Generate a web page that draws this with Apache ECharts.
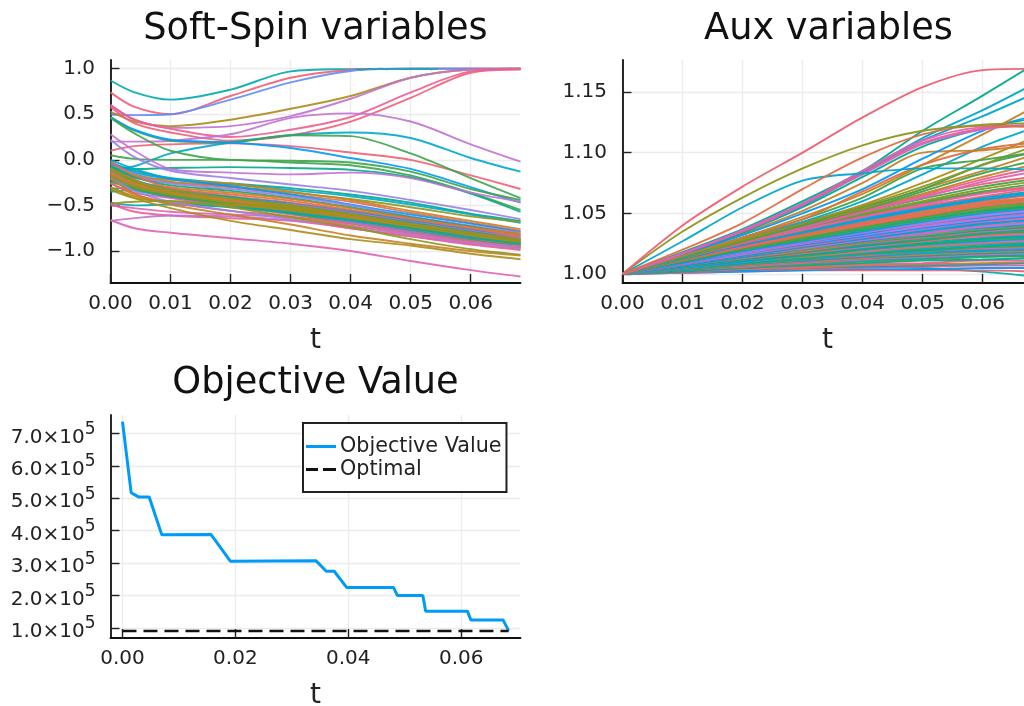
<!DOCTYPE html>
<html><head><meta charset="utf-8">
<style>html,body{margin:0;padding:0;background:#fff;overflow:hidden}#c{width:1024px;height:706px;filter:blur(0.5px)}</style>
<script src="https://cdn.jsdelivr.net/npm/echarts@6/dist/echarts.min.js"></script>
</head><body><div id="c"></div>
<script>
const palette = ['#009af9','#e26f46','#3da44d','#c271d2','#ac8d18','#00a9ad','#ed5e93','#c68225','#00a98d','#8e971d','#00a8cb','#9b7fe9','#618df6','#f05f73','#dd64b5','#6b9d1e'];

const titles = ['Soft-Spin variables','Aux variables','Objective Value'];
const spinXTicks = [0,0.01,0.02,0.03,0.04,0.05,0.06];
const spinYTicks = [-1,-0.5,0,0.5,1];
const auxYTicks = [1,1.05,1.1,1.15];
const objXTicks = [0,0.02,0.04,0.06];
const objYTicks = [100000,200000,300000,400000,500000,600000,700000];

const spinT = [0,0.004,0.01,0.02,0.03,0.04,0.05,0.06,0.0683];
const spinLines = [
 [0.87,0.74,0.66,0.77,0.97,0.995,1,1,1],
 [0.74,0.58,0.50,0.70,0.90,0.985,1,1,1],
 [0.50,0.49,0.50,0.66,0.85,0.975,1,1,1],
 [0.53,0.42,0.37,0.44,0.56,0.70,0.90,0.99,1],
 [0.60,0.44,0.35,0.37,0.48,0.67,0.90,0.99,1],
 [0.58,0.40,0.30,0.21,0.27,0.42,0.68,0.955,0.99],
 [0.60,0.44,0.34,0.25,0.33,0.47,0.74,0.97,0.995],
 [0.20,0.20,0.21,0.28,0.46,0.51,0.42,0.17,-0.02],
 [0.10,0.15,0.17,0.18,0.15,0.08,0.00,-0.17,-0.32],
 [-0.10,-0.07,0.07,0.19,0.27,0.30,0.24,0.02,-0.13],
 [0.47,0.32,0.21,0.19,0.27,0.26,0.07,-0.20,-0.42],
 [0.47,0.33,0.22,0.19,0.13,0.02,-0.10,-0.30,-0.47],
 [0.46,0.29,0.10,-0.00,-0.01,-0.03,-0.13,-0.32,-0.44],
 [0.05,0.01,0.00,-0.00,-0.03,-0.06,-0.17,-0.36,-0.55],
 [-0.05,-0.10,-0.09,-0.08,-0.09,-0.11,-0.19,-0.37,-0.57],
 [0.28,0.10,-0.10,-0.14,-0.16,-0.14,-0.20,-0.36,-0.46],
 [0.22,0.03,-0.12,-0.20,-0.27,-0.34,-0.44,-0.55,-0.65],
 [-0.03,-0.12,-0.20,-0.26,-0.31,-0.38,-0.47,-0.59,-0.67],
 [0.00,-0.10,-0.21,-0.27,-0.33,-0.40,-0.49,-0.60,-0.69],
 [-0.08,-0.16,-0.24,-0.29,-0.36,-0.43,-0.52,-0.62,-0.68],
 [-0.10,-0.18,-0.22,-0.26,-0.35,-0.44,-0.56,-0.67,-0.76],
 [-0.12,-0.20,-0.25,-0.30,-0.38,-0.46,-0.58,-0.69,-0.78],
 [-0.02,-0.14,-0.21,-0.29,-0.38,-0.49,-0.60,-0.70,-0.79],
 [-0.05,-0.17,-0.26,-0.32,-0.40,-0.50,-0.62,-0.72,-0.80],
 [-0.06,-0.19,-0.28,-0.34,-0.42,-0.52,-0.63,-0.73,-0.82],
 [-0.14,-0.24,-0.30,-0.36,-0.43,-0.53,-0.64,-0.74,-0.81],
 [-0.02,-0.17,-0.31,-0.38,-0.45,-0.55,-0.65,-0.75,-0.84],
 [-0.16,-0.25,-0.32,-0.40,-0.47,-0.56,-0.66,-0.76,-0.83],
 [-0.10,-0.22,-0.33,-0.41,-0.48,-0.57,-0.67,-0.77,-0.86],
 [-0.18,-0.27,-0.34,-0.42,-0.49,-0.58,-0.68,-0.78,-0.85],
 [-0.32,-0.30,-0.35,-0.41,-0.50,-0.59,-0.69,-0.79,-0.87],
 [-0.20,-0.29,-0.36,-0.43,-0.51,-0.60,-0.70,-0.80,-0.88],
 [-0.08,-0.23,-0.36,-0.44,-0.52,-0.61,-0.71,-0.81,-0.89],
 [-0.13,-0.26,-0.37,-0.45,-0.53,-0.62,-0.72,-0.82,-0.90],
 [-0.15,-0.27,-0.38,-0.46,-0.54,-0.63,-0.73,-0.83,-0.91],
 [-0.35,-0.33,-0.40,-0.47,-0.55,-0.64,-0.73,-0.84,-0.92],
 [-0.24,-0.31,-0.39,-0.48,-0.56,-0.65,-0.75,-0.85,-0.93],
 [-0.11,-0.25,-0.37,-0.47,-0.57,-0.66,-0.76,-0.85,-0.94],
 [-0.17,-0.30,-0.40,-0.49,-0.58,-0.67,-0.77,-0.86,-0.92],
 [-0.22,-0.33,-0.41,-0.50,-0.58,-0.68,-0.78,-0.87,-0.95],
 [-0.26,-0.36,-0.42,-0.51,-0.60,-0.69,-0.79,-0.88,-0.93],
 [-0.12,-0.24,-0.33,-0.42,-0.50,-0.60,-0.71,-0.82,-0.89],
 [-0.09,-0.22,-0.35,-0.44,-0.51,-0.60,-0.70,-0.80,-0.87],
 [-0.15,-0.27,-0.36,-0.44,-0.53,-0.62,-0.73,-0.83,-0.90],
 [-0.18,-0.29,-0.38,-0.47,-0.54,-0.64,-0.75,-0.85,-0.94],
 [-0.21,-0.32,-0.40,-0.49,-0.59,-0.70,-0.80,-0.88,-0.95],
 [-0.33,-0.42,-0.46,-0.49,-0.52,-0.60,-0.72,-0.83,-0.90],
 [-0.30,-0.40,-0.47,-0.50,-0.55,-0.64,-0.74,-0.84,-0.91],
 [-0.47,-0.50,-0.49,-0.52,-0.58,-0.66,-0.75,-0.85,-0.92],
 [-0.50,-0.53,-0.57,-0.60,-0.63,-0.70,-0.80,-0.89,-0.96],
 [-0.25,-0.38,-0.47,-0.56,-0.62,-0.72,-0.82,-0.90,-0.97],
 [-0.20,-0.34,-0.46,-0.56,-0.65,-0.75,-0.84,-0.92,-0.98],
 [-0.48,-0.57,-0.61,-0.64,-0.67,-0.75,-0.84,-0.93,-0.99],
 [-0.67,-0.64,-0.61,-0.62,-0.66,-0.73,-0.82,-0.91,-0.95],
 [-0.20,-0.37,-0.49,-0.60,-0.71,-0.83,-0.92,-1.00,-1.05],
 [-0.48,-0.46,-0.45,-0.52,-0.63,-0.74,-0.87,-0.98,-1.04],
 [-0.30,-0.42,-0.53,-0.67,-0.77,-0.87,-0.94,-1.03,-1.09],
 [-0.66,-0.75,-0.80,-0.86,-0.92,-1.00,-1.11,-1.21,-1.28]
];
const spinColorIdx = [5,13,12,4,3,13,6,3,13,10,2,0,2,2,8,3,11,8,10,9,7,1,0,11,8,7,1,1,0,6,5,0,8,14,6,5,2,7,9,0,14,9,4,7,9,2,9,4,5,14,1,11,6,3,7,9,4,14];
const spinJitterT = [0.041,0.042,0.043,0.044,0.045,0.046,0.047,0.048,0.053,0.0535,0.054,0.0545];
const spinJitterV = [0.995,0.985,1.002,0.988,1.003,0.99,1.002,0.995,0.998,0.99,1.002,0.998];

const auxT = [0,0.01,0.02,0.03,0.04,0.05,0.06,0.0683];
const auxLines = [
 [1,1.003,1.006,1.009,1.012,1.014,1.015,1.014],
 [1,1.002,1.004,1.005,1.006,1.005,1.002,0.998],
 [1,1.001,1.002,1.003,1.003,1.003,1.003,1.002],
 [1,1.001,1.002,1.003,1.004,1.004,1.005,1.005],
 [1,1.001,1.003,1.004,1.005,1.006,1.007,1.007],
 [1,1.002,1.003,1.005,1.006,1.007,1.008,1.009],
 [1,1.002,1.004,1.005,1.007,1.008,1.009,1.010],
 [1,1.002,1.004,1.006,1.008,1.009,1.011,1.011],
 [1,1.002,1.005,1.007,1.009,1.011,1.012,1.013],
 [1,1.003,1.005,1.008,1.010,1.012,1.014,1.015],
 [1,1.003,1.006,1.009,1.011,1.013,1.015,1.016],
 [1,1.003,1.006,1.009,1.012,1.014,1.016,1.017],
 [1,1.003,1.007,1.010,1.013,1.015,1.017,1.018],
 [1,1.004,1.007,1.010,1.013,1.016,1.018,1.019],
 [1,1.004,1.008,1.011,1.014,1.017,1.019,1.020],
 [1,1.004,1.008,1.011,1.015,1.018,1.020,1.021],
 [1,1.004,1.008,1.012,1.015,1.019,1.021,1.022],
 [1,1.004,1.008,1.012,1.016,1.019,1.022,1.023],
 [1,1.005,1.009,1.013,1.017,1.020,1.023,1.024],
 [1,1.005,1.009,1.013,1.017,1.021,1.024,1.025],
 [1,1.005,1.009,1.014,1.018,1.022,1.025,1.026],
 [1,1.005,1.010,1.014,1.018,1.022,1.025,1.027],
 [1,1.005,1.010,1.015,1.019,1.023,1.026,1.028],
 [1,1.005,1.010,1.015,1.020,1.024,1.027,1.029],
 [1,1.006,1.011,1.015,1.020,1.024,1.028,1.030],
 [1,1.006,1.011,1.016,1.021,1.025,1.029,1.031],
 [1,1.006,1.011,1.016,1.021,1.026,1.030,1.032],
 [1,1.006,1.012,1.017,1.022,1.027,1.031,1.033],
 [1,1.006,1.012,1.017,1.023,1.027,1.032,1.034],
 [1,1.006,1.012,1.018,1.023,1.028,1.033,1.035],
 [1,1.007,1.013,1.018,1.024,1.029,1.033,1.036],
 [1,1.007,1.013,1.019,1.024,1.030,1.034,1.037],
 [1,1.007,1.013,1.019,1.025,1.030,1.035,1.038],
 [1,1.007,1.014,1.020,1.026,1.031,1.036,1.039],
 [1,1.007,1.014,1.020,1.026,1.032,1.037,1.040],
 [1,1.007,1.014,1.021,1.027,1.033,1.038,1.041],
 [1,1.008,1.015,1.021,1.028,1.033,1.039,1.042],
 [1,1.008,1.015,1.022,1.028,1.034,1.040,1.043],
 [1,1.008,1.015,1.022,1.029,1.035,1.041,1.044],
 [1,1.008,1.016,1.023,1.029,1.036,1.042,1.045],
 [1,1.008,1.016,1.023,1.030,1.037,1.043,1.046],
 [1,1.009,1.016,1.024,1.031,1.037,1.044,1.047],
 [1,1.009,1.017,1.024,1.031,1.038,1.044,1.048],
 [1,1.009,1.017,1.025,1.032,1.039,1.045,1.049],
 [1,1.009,1.018,1.025,1.033,1.040,1.046,1.050],
 [1,1.009,1.018,1.026,1.033,1.041,1.047,1.051],
 [1,1.010,1.018,1.026,1.034,1.041,1.048,1.052],
 [1,1.010,1.019,1.027,1.035,1.042,1.049,1.053],
 [1,1.010,1.019,1.027,1.035,1.043,1.050,1.054],
 [1,1.010,1.020,1.028,1.036,1.044,1.051,1.055],
 [1,1.010,1.020,1.029,1.037,1.045,1.052,1.056],
 [1,1.011,1.020,1.029,1.038,1.046,1.053,1.057],
 [1,1.011,1.021,1.030,1.039,1.047,1.054,1.058],
 [1,1.011,1.021,1.030,1.039,1.047,1.055,1.059],
 [1,1.011,1.022,1.031,1.040,1.048,1.056,1.060],
 [1,1.012,1.022,1.032,1.041,1.049,1.057,1.061],
 [1,1.012,1.023,1.032,1.042,1.050,1.058,1.062],
 [1,1.012,1.023,1.033,1.042,1.051,1.059,1.063],
 [1,1.012,1.023,1.033,1.043,1.052,1.060,1.065],
 [1,1.012,1.024,1.034,1.044,1.053,1.061,1.066],
 [1,1.013,1.024,1.035,1.045,1.054,1.062,1.067],
 [1,1.013,1.025,1.035,1.046,1.055,1.063,1.068],
 [1,1.013,1.025,1.036,1.047,1.056,1.064,1.070],
 [1,1.013,1.026,1.037,1.047,1.057,1.066,1.071],
 [1,1.013,1.026,1.038,1.048,1.058,1.067,1.072],
 [1,1.013,1.026,1.038,1.049,1.059,1.068,1.074],
 [1,1.013,1.027,1.039,1.050,1.060,1.070,1.076],
 [1,1.013,1.026,1.039,1.051,1.062,1.072,1.078],
 [1,1.013,1.027,1.040,1.052,1.064,1.074,1.080],
 [1,1.013,1.026,1.038,1.051,1.063,1.076,1.084],
 [1,1.013,1.026,1.039,1.052,1.065,1.078,1.087],
 [1,1.013,1.027,1.040,1.053,1.066,1.080,1.090],
 [1,1.013,1.027,1.040,1.053,1.068,1.083,1.093],
 [1,1.014,1.028,1.041,1.054,1.070,1.085,1.098],
 [1,1.014,1.028,1.041,1.055,1.070,1.090,1.100],
 [1,1.014,1.028,1.042,1.056,1.072,1.090,1.105],
 [1,1.014,1.029,1.042,1.057,1.075,1.095,1.112],
 [1,1.014,1.030,1.043,1.060,1.082,1.105,1.120],
 [1,1.015,1.030,1.045,1.063,1.087,1.094,1.100],
 [1,1.015,1.030,1.045,1.068,1.090,1.103,1.108],
 [1,1.016,1.033,1.052,1.075,1.100,1.102,1.106],
 [1,1.016,1.034,1.055,1.080,1.105,1.120,1.128],
 [1,1.016,1.032,1.050,1.070,1.095,1.118,1.130],
 [1,1.015,1.030,1.047,1.066,1.090,1.115,1.137],
 [1,1.017,1.035,1.056,1.083,1.110,1.130,1.148],
 [1,1.017,1.036,1.058,1.084,1.112,1.135,1.156],
 [1,1.018,1.037,1.060,1.085,1.118,1.147,1.172],
 [1,1.017,1.036,1.058,1.082,1.107,1.119,1.123],
 [1,1.017,1.035,1.057,1.083,1.108,1.120,1.122],
 [1,1.017,1.036,1.058,1.085,1.110,1.121,1.122],
 [1,1.027,1.055,1.077,1.083,1.087,1.087,1.086],
 [1,1.020,1.042,1.070,1.096,1.115,1.122,1.121],
 [1,1.035,1.063,1.087,1.106,1.118,1.123,1.124],
 [1,1.040,1.072,1.100,1.129,1.154,1.168,1.169]
];
const auxColorIdx = [
 8,5,13,0,13,0,7,6,8,2,5,14,8,1,5,0,6,2,8,10,5,7,3,0,2,
 8,5,14,1,8,2,5,6,8,9,0,3,14,5,0,6,3,0,11,14,0,3,11,0,
 2,8,2,9,2,1,13,7,1,13,5,0,10,13,14,13,2,9,2,13,14,6,7,
 2,7,2,9,4,10,2,1,7,8,0,7,10,10,8,3,6,14,10,1,9,13
];

const objT = [0,0.00154,0.00283,0.00473,0.00697,0.0157,0.0191,0.0343,0.0361,0.0375,0.0397,0.048,0.0487,0.0532,0.0537,0.0611,0.0617,0.0674,0.0684];
const objV = [736000,517000,504000,504000,387000,388000,306000,307000,275000,275000,225000,225000,200000,200000,152000,152000,125000,125000,92000];
const optT = [0,0.0684];
const optV = [91000,91000];

const FONT = 'DejaVu Sans';
const TXT = '#222';
const fmtSup = v => '{a|' + (v/100000).toFixed(1) + '×10}{b|5}';
const axisBase = (i, ticks, fmt, extra, lab) => Object.assign({
  type:'value', gridIndex:i, scale:true,
  axisLine:{show:true,onZero:false,lineStyle:{color:'#111',width:1.8}},
  axisTick:{show:true,inside:true,length:9,customValues:ticks,lineStyle:{color:'#222',width:1.4}},
  axisLabel:Object.assign({customValues:ticks,formatter:fmt,color:TXT,fontFamily:FONT,fontSize:20,hideOverlap:false,showMinLabel:true,showMaxLabel:true},lab),
  splitLine:{show:true,lineStyle:{color:'#ececec',width:1.4}}
}, extra);
const xFmt = v => v.toFixed(2);
const yFmt1 = v => (v<0?'−':'') + Math.abs(v).toFixed(1);
const yFmt2 = v => v.toFixed(2);
const xName = {name:'t',nameLocation:'middle',nameGap:44,nameTextStyle:{color:TXT,fontFamily:FONT,fontSize:28}};
const xLab = {margin:11};
const yLab = {margin:15.5,padding:[9,0,0,0]};

const series = [];
spinLines.forEach((r,i)=>series.push({type:'line',name:'spin '+(i+1),xAxisIndex:0,yAxisIndex:0,symbol:'none',smooth:0.3,
  lineStyle:{width:1.9,opacity:0.9,color:palette[spinColorIdx[i]]},data:r.map((v,k)=>[spinT[k],v]),silent:true,z:2}));
series.push({type:'line',name:'spin jitter',xAxisIndex:0,yAxisIndex:0,symbol:'none',lineStyle:{width:1.2,color:palette[5]},data:spinJitterT.map((t,k)=>[t,spinJitterV[k]]),z:2});
auxLines.forEach((r,i)=>series.push({type:'line',name:'aux '+(i+1),xAxisIndex:1,yAxisIndex:1,symbol:'none',smooth:0.3,
  lineStyle:{width:1.9,opacity:0.95,color:palette[auxColorIdx[i]]},data:r.map((v,k)=>[auxT[k],v]),silent:true,z:2}));
series.push({type:'line',name:'Objective Value',xAxisIndex:2,yAxisIndex:2,symbol:'none',itemStyle:{color:palette[0]},lineStyle:{width:3,color:palette[0]},data:objT.map((t,k)=>[t,objV[k]]),z:3});
series.push({type:'line',name:'Optimal',xAxisIndex:2,yAxisIndex:2,symbol:'none',itemStyle:{color:'#111'},lineStyle:{width:2.5,color:'#111',type:[14,7]},data:optT.map((t,k)=>[t,optV[k]]),z:3});

const chart = echarts.init(document.getElementById('c'),null,{renderer:'canvas'});
chart.setOption({
  animation:false,backgroundColor:'#fff',
  title:[
    {text:titles[0],left:310.5,top:6,textAlign:'center',textStyle:{fontFamily:FONT,fontWeight:'normal',fontSize:36.7,color:'#111'}},
    {text:titles[1],left:823.5,top:6,textAlign:'center',textStyle:{fontFamily:FONT,fontWeight:'normal',fontSize:36.7,color:'#111'}},
    {text:titles[2],left:310.5,top:360,textAlign:'center',textStyle:{fontFamily:FONT,fontWeight:'normal',fontSize:36.7,color:'#111'}}
  ],
  grid:[
    {left:110.5,top:60,width:410,height:223,outerBoundsMode:'none'},
    {left:622.5,top:60,width:410,height:223,outerBoundsMode:'none'},
    {left:110.5,top:415,width:410,height:223,outerBoundsMode:'none'}
  ],
  xAxis:[
    axisBase(0,spinXTicks,xFmt,Object.assign({min:0,max:0.0683},xName),xLab),
    axisBase(1,spinXTicks,xFmt,Object.assign({min:0,max:0.0683},xName),xLab),
    axisBase(2,objXTicks,xFmt,Object.assign({min:-0.00212,max:0.0705},xName),xLab)
  ],
  yAxis:[
    axisBase(0,spinYTicks,yFmt1,{min:-1.351,max:1.095},yLab),
    axisBase(1,auxYTicks,yFmt2,{min:0.9926,max:1.1763},yLab),
    axisBase(2,objYTicks,fmtSup,{min:69200,max:756400},{margin:15,padding:[8,0,0,0],rich:{a:{fontFamily:FONT,fontSize:20,color:TXT},b:{fontFamily:FONT,fontSize:17,color:TXT,padding:[0,0,16,0]}}})
  ],
  legend:{show:true,orient:'vertical',left:303,top:423,padding:[13,5,12,3],itemGap:2,itemWidth:30,itemHeight:3,
    backgroundColor:'#fff',borderColor:'#222',borderWidth:2,
    textStyle:{fontFamily:FONT,fontSize:20.7,color:TXT,padding:[0,0,0,-1]},
    data:[{name:'Objective Value',icon:'path://M0 0H30V3H0Z'},{name:'Optimal',icon:'path://M0 0H12V3H0Z M17 0H30V3H17Z'}],selectedMode:false},
  series
});
</script></body></html>
